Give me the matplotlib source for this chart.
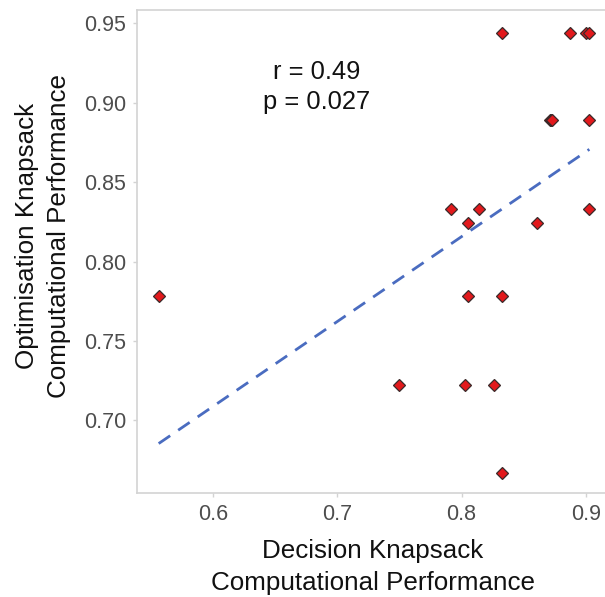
import numpy as np
import matplotlib.pyplot as plt

plt.rcParams['font.family'] = ['Liberation Sans', 'DejaVu Sans']

# Decision vs optimisation knapsack performance (per participant)
decision = [0.833, 0.887, 0.900, 0.903,
            0.871, 0.872, 0.873, 0.903,
            0.7915, 0.814, 0.903,
            0.8055, 0.861,
            0.556, 0.8055, 0.833,
            0.750, 0.803, 0.826,
            0.833]
optimisation = [0.944, 0.944, 0.944, 0.944,
                0.889, 0.889, 0.889, 0.889,
                0.833, 0.833, 0.833,
                0.824, 0.824,
                0.778, 0.778, 0.778,
                0.722, 0.722, 0.722,
                0.667]
stats_text = "r = 0.49\np = 0.027"
xlabel = "Decision Knapsack\nComputational Performance"
ylabel = "Optimisation Knapsack\nComputational Performance"

x = np.array(decision)
y = np.array(optimisation)

fig = plt.figure(figsize=(6.05, 5.97), dpi=100)
ax = fig.add_axes([0.227, 0.1737, 0.773, 0.8095])

# Linear fit
slope, intercept = np.polyfit(x, y, 1)
xs = np.array([x.min(), x.max()])
ax.plot(xs, slope * xs + intercept, color='#4a6cc0', lw=2.0,
        dashes=(5, 3.5), zorder=1)

ax.plot(x, y, linestyle='none', marker='D', markersize=6.5,
        markerfacecolor='#e2191c', markeredgecolor='#3a2a2a',
        markeredgewidth=0.9, zorder=2)

ax.text(0.6836, 0.9098, stats_text, ha='center', va='center',
        fontsize=18.4, linespacing=1.3, color='#111111')

ax.set_xlim(0.5388, 0.9156)
ax.set_ylim(0.654, 0.9584)
ax.set_xticks([0.6, 0.7, 0.8, 0.9])
ax.set_xticklabels(['0.6', '0.7', '0.8', '0.9'])
ax.set_yticks([0.70, 0.75, 0.80, 0.85, 0.90, 0.95])
ax.set_yticklabels(['0.70', '0.75', '0.80', '0.85', '0.90', '0.95'])

for side in ['left', 'bottom', 'top']:
    ax.spines[side].set_color('#d3d3d3')
    ax.spines[side].set_linewidth(1.2)
ax.spines['right'].set_visible(False)
ax.tick_params(axis='both', colors='#d3d3d3', labelcolor='#4d4d4d',
               labelsize=15.5, length=3, width=1)
ax.tick_params(axis='x', pad=5)
ax.tick_params(axis='y', pad=5)

# axis titles placed in figure pixels
W, H = 605, 597
fig.text(373 / W, 1 - 567 / H, xlabel, ha='center', va='center',
         fontsize=18.7, linespacing=1.4, color='#111111')
fig.text(43 / W, 1 - 236 / H, ylabel, ha='center', va='center',
         rotation=90, fontsize=18.7, linespacing=1.4, color='#111111')

fig.savefig('out.png', dpi=100)
